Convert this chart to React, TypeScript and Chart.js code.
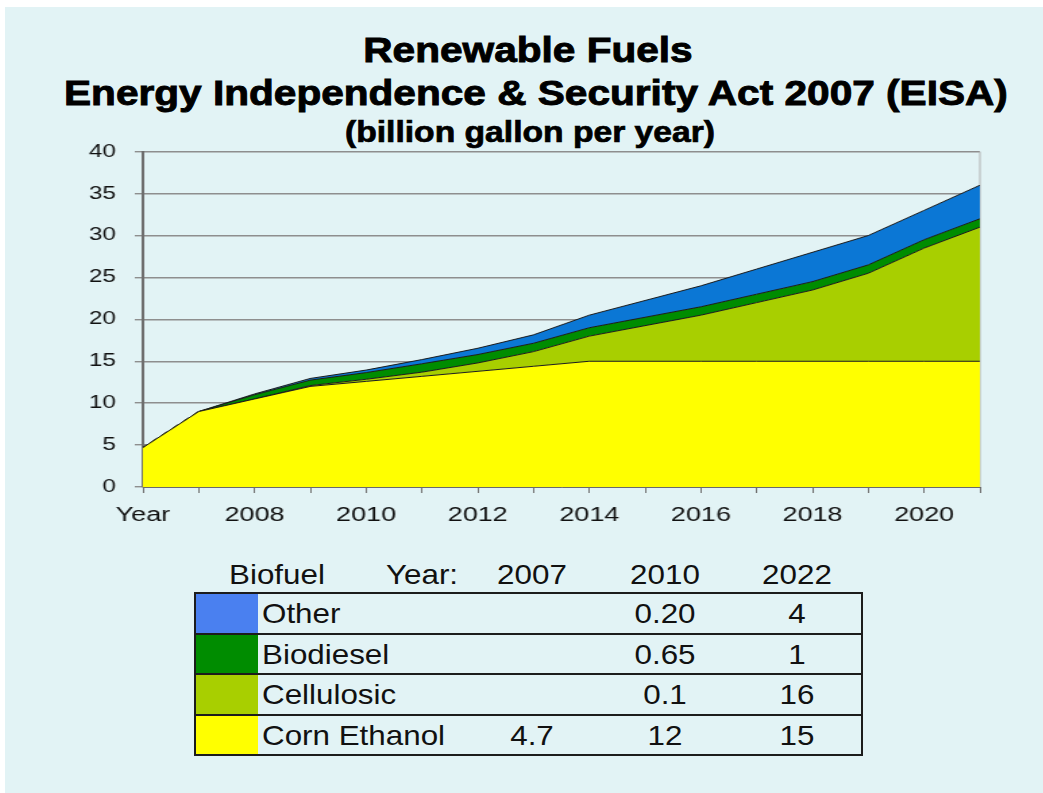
import React, { useEffect, useRef } from "react";
import { Chart, registerables } from "chart.js";

Chart.register(...registerables);

// ---- data ----
const yearLabels = ["Year", "2007", "2008", "2009", "2010", "2011", "2012", "2013", "2014", "2015", "2016", "2017", "2018", "2019", "2020", "2021"];
const cornEthanol = [4.7, 9.0, 10.5, 12.0, 12.6, 13.2, 13.8, 14.4, 15, 15, 15, 15, 15, 15, 15, 15];
const cellulosic = [0, 0, 0, 0.1, 0.25, 0.5, 1.0, 1.75, 3.0, 4.25, 5.5, 7.0, 8.5, 10.5, 13.5, 16];
const biodiesel = [0, 0, 0.5, 0.65, 0.8, 1.0, 1.0, 1.0, 1.0, 1.0, 1.0, 1.0, 1.0, 1.0, 1.0, 1.0];
const other = [0, 0, 0.1, 0.2, 0.3, 0.5, 0.75, 1.0, 1.5, 2.0, 2.5, 3.0, 3.5, 3.5, 3.5, 4.0];

const titleLines = ["Renewable Fuels", "Energy Independence & Security Act 2007 (EISA)", "(billion gallon per year)"];

const tableYears = ["2007", "2010", "2022"];
const tableNames = ["Other", "Biodiesel", "Cellulosic", "Corn Ethanol"];
const otherTable = ["", "0.20", "4"];
const biodieselTable = ["", "0.65", "1"];
const cellulosicTable = ["", "0.1", "16"];
const cornTable = ["4.7", "12", "15"];

// ---- styles ----
const COLORS = {
  corn: "#ffff00",
  cellulosic: "#a8cf00",
  biodiesel: "#008c00",
  other: "#0b77d5",
  otherSwatch: "#4a80f0",
};
const BG = "#e2f3f5";
const FONT = "'Liberation Sans', Arial, Helvetica, sans-serif";

const STRETCH = 1.35;
const CANVAS_LEFT = 70;
const CANVAS_TOP = 140;
const CANVAS_W = 689;
const CANVAS_H = 400;

const rightFrame = {
  id: "rightFrame",
  beforeDatasetsDraw(chart: any) {
    const { ctx, chartArea } = chart;
    ctx.save();
    ctx.strokeStyle = "#b0b0b0";
    ctx.lineWidth = 1;
    ctx.beginPath();
    ctx.moveTo(chartArea.right, chartArea.top);
    ctx.lineTo(chartArea.right, chartArea.bottom);
    ctx.stroke();
    ctx.restore();
  },
};

function AreaChart() {
  const ref = useRef<HTMLCanvasElement | null>(null);
  useEffect(() => {
    if (!ref.current) return;
    const mk = (label: string, data: number[], color: string, fill: any) => ({
      label,
      data,
      backgroundColor: color,
      borderColor: "#1a1a1a",
      borderWidth: 1,
      pointRadius: 0,
      tension: 0,
      fill,
    });
    const chart = new Chart(ref.current, {
      type: "line",
      data: {
        labels: yearLabels,
        datasets: [
          mk("Corn Ethanol", cornEthanol, COLORS.corn, "origin"),
          mk("Cellulosic", cellulosic, COLORS.cellulosic, "-1"),
          mk("Biodiesel", biodiesel, COLORS.biodiesel, "-1"),
          mk("Other", other, COLORS.other, "-1"),
        ],
      },
      options: {
        animation: false,
        responsive: false,
        devicePixelRatio: 1,
        layout: { padding: { top: 0, right: 15, bottom: 0, left: 0 } },
        plugins: { legend: { display: false }, tooltip: { enabled: false }, title: { display: false } },
        scales: {
          x: {
            type: "category",
            offset: false,
            grid: { display: true, drawOnChartArea: false, drawTicks: true, tickLength: 6, color: "#707070", lineWidth: 1 },
            border: { display: true, color: "#6a6a6a", width: 1 },
            ticks: {
              autoSkip: false,
              maxRotation: 0,
              minRotation: 0,
              padding: 10,
              color: "#111",
              font: { family: FONT, size: 20 },
              callback: (_v: any, i: number) => (i % 2 === 0 ? yearLabels[i] : ""),
            },
            afterFit: (s: any) => {
              s.height = 53;
            },
          },
          y: {
            stacked: true,
            min: 0,
            max: 40,
            ticks: { stepSize: 5, padding: 14, color: "#111", font: { family: FONT, size: 18 } },
            grid: { color: "#8e8e8e", lineWidth: 1.4, tickLength: 6, drawTicks: true },
            border: { display: true, color: "#6e6e6e", width: 2 },
            afterFit: (s: any) => {
              s.width = 54;
              s.paddingTop = 11.7;
              s.paddingBottom = 11;
            },
          },
        },
      },
      plugins: [rightFrame],
    } as any);
    return () => chart.destroy();
  }, []);
  return (
    <div
      style={{
        position: "absolute",
        left: CANVAS_LEFT,
        top: CANVAS_TOP,
        width: CANVAS_W,
        height: CANVAS_H,
        transform: `scaleX(${STRETCH})`,
        transformOrigin: "0 0",
      }}
    >
      <canvas ref={ref} width={CANVAS_W} height={CANVAS_H} style={{ display: "block" }} />
    </div>
  );
}

function CenterText({ cx, top, size, bold, stretch, children, extra }: any) {
  return (
    <div
      style={{
        position: "absolute",
        left: cx - 400,
        width: 800,
        top,
        textAlign: "center",
        fontFamily: FONT,
        fontSize: size,
        fontWeight: bold ? 700 : 400,
        lineHeight: 1,
        whiteSpace: "nowrap",
        color: "#000",
        transform: `scaleX(${stretch || 1})`,
        transformOrigin: "50% 50%",
        ...(extra || {}),
      }}
    >
      {children}
    </div>
  );
}

function LeftText({ x, top, size, stretch, children }: any) {
  return (
    <div
      style={{
        position: "absolute",
        left: x,
        top,
        fontFamily: FONT,
        fontSize: size,
        lineHeight: 1,
        color: "#111",
        transform: `scaleX(${stretch || 1})`,
        transformOrigin: "0 50%",
        whiteSpace: "nowrap",
      }}
    >
      {children}
    </div>
  );
}

function DataTable() {
  const rows = [
    { name: tableNames[0], color: COLORS.otherSwatch, vals: otherTable },
    { name: tableNames[1], color: COLORS.biodiesel, vals: biodieselTable },
    { name: tableNames[2], color: COLORS.cellulosic, vals: cellulosicTable },
    { name: tableNames[3], color: COLORS.corn, vals: cornTable },
  ];
  const left = 194;
  const top = 592;
  const width = 669;
  const rowH = 40.5;
  const valCenters = [532, 665, 797];
  const fs = 28;
  const sx = 1.12;
  return (
    <>
      <LeftText x={229} top={561} size={fs} stretch={sx}>Biofuel</LeftText>
      <LeftText x={386} top={561} size={fs} stretch={sx}>Year:</LeftText>
      {tableYears.map((y, i) => (
        <CenterText key={y} cx={valCenters[i]} top={561} size={fs} stretch={sx} extra={{ color: "#111" }}>
          {y}
        </CenterText>
      ))}
      <div
        style={{
          position: "absolute",
          left,
          top,
          width,
          height: rowH * 4 + 2,
          border: "2px solid #1c1c1c",
          boxSizing: "border-box",
        }}
      />
      {rows.map((r, i) => {
        const rt = top + 2 + rowH * i;
        const tt = rt + (rowH - 2 - fs) / 2 + 1;
        return (
          <React.Fragment key={r.name}>
            <div style={{ position: "absolute", left: left + 2, top: rt, width: 62, height: rowH - 2, background: r.color }} />
            {i < 3 && <div style={{ position: "absolute", left, top: rt + rowH - 2, width, height: 2, background: "#1c1c1c" }} />}
            <LeftText x={262} top={tt} size={fs} stretch={sx}>{r.name}</LeftText>
            {r.vals.map((v, j) => (
              <CenterText key={j} cx={valCenters[j]} top={tt} size={fs} stretch={sx} extra={{ color: "#111" }}>
                {v}
              </CenterText>
            ))}
          </React.Fragment>
        );
      })}
    </>
  );
}

export default function App() {
  return (
    <div style={{ position: "absolute", left: 0, top: 0, width: 1043, height: 793, background: "#fff", overflow: "hidden" }}>
      <div style={{ position: "absolute", left: 5, top: 7, width: 1038, height: 786, background: BG }} />
      <CenterText cx={528} top={32} size={35} bold stretch={1.16} extra={{ WebkitTextStroke: "0.9px #000" }}>
        {titleLines[0]}
      </CenterText>
      <CenterText cx={528} top={75} size={35} bold stretch={1.16} extra={{ WebkitTextStroke: "0.9px #000" }}>
        {titleLines[1]}
      </CenterText>
      <CenterText cx={530} top={118} size={29} bold stretch={1.16} extra={{ WebkitTextStroke: "0.7px #000" }}>
        {titleLines[2]}
      </CenterText>
      <AreaChart />
      <DataTable />
    </div>
  );
}
